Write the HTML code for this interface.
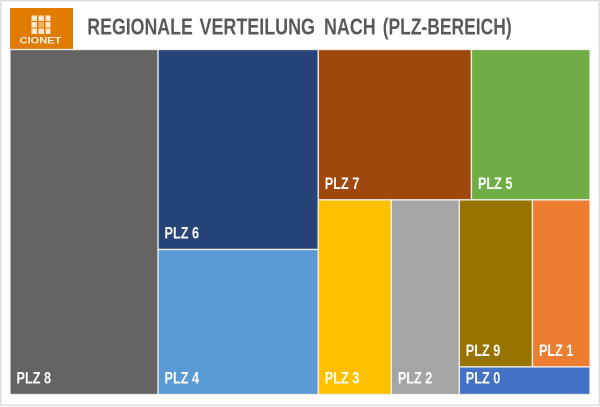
<!DOCTYPE html>
<html lang="de">
<head>
<meta charset="utf-8">
<title>Regionale Verteilung nach PLZ-Bereich</title>
<style>
html,body{margin:0;padding:0;background:#fff;}
body{width:600px;height:407px;overflow:hidden;}
svg{display:block;}
text{font-family:"Liberation Sans",sans-serif;font-weight:700;filter:blur(0.3px);}
</style>
</head>
<body>
<svg id="chart" width="600" height="407" viewBox="0 0 600 407" xmlns="http://www.w3.org/2000/svg">
  <rect x="0.75" y="0.75" width="598.5" height="404.5" fill="#fff" stroke="#dfdfdf" stroke-width="1.5"/>
  <g>
    <rect x="10" y="8" width="63" height="42" fill="#e07b00"/>
    <g fill="#fbe6cc">
      <rect x="31.5" y="15.5" width="5.5" height="5.5"/><rect x="38.5" y="15.5" width="5.5" height="5.5"/><rect x="45.5" y="15.5" width="5" height="5.5"/>
      <rect x="31.5" y="22" width="5.5" height="5.5"/><rect x="38.5" y="22" width="5.5" height="5.5" fill="#f0b36a"/><rect x="45.5" y="22" width="5" height="5.5"/>
      <rect x="31.5" y="28.5" width="5.5" height="5.5"/><rect x="38.5" y="28.5" width="5.5" height="5.5"/><rect x="45.5" y="28.5" width="5" height="5.5"/>
    </g>
    <text x="19.7" y="43.5" font-size="9.5" fill="#fbeee0" textLength="41.5" lengthAdjust="spacingAndGlyphs">CIONET</text>
  </g>
  <g font-size="23.2" fill="#595959">
    <text x="87.3" y="34.5" textLength="105.5" lengthAdjust="spacingAndGlyphs">REGIONALE</text>
    <text x="199.5" y="34.5" textLength="115.5" lengthAdjust="spacingAndGlyphs">VERTEILUNG</text>
    <text x="324" y="34.5" textLength="51.7" lengthAdjust="spacingAndGlyphs">NACH</text>
    <text x="382.7" y="34.5" textLength="129" lengthAdjust="spacingAndGlyphs">(PLZ-BEREICH)</text>
  </g>
  <g id="cells"></g>
</svg>
<script>
// Treemap data, in area share (%)
const categories = ["PLZ 8", "PLZ 6", "PLZ 4", "PLZ 7", "PLZ 5", "PLZ 3", "PLZ 2", "PLZ 9", "PLZ 1", "PLZ 0"];
const values = [25.5, 16.0, 11.6, 11.5, 8.9, 7.1, 6.6, 6.1, 4.8, 1.8];
const colors = ["#636363", "#264478", "#5b9bd5", "#9e480e", "#70ad47", "#ffc000", "#a5a5a5", "#997300", "#ed7d31", "#4472c4"];

// Nesting of the treemap: numbers index the arrays above
const layoutTree = {dir: "x", kids: [
  0,
  {dir: "y", kids: [1, 2]},
  {dir: "y", kids: [
    {dir: "x", kids: [3, 4]},
    {dir: "x", kids: [5, 6, {dir: "y", kids: [{dir: "x", kids: [7, 8]}, 9]}]}
  ]}
]};

const plot = {x: 10, y: 49.5, w: 580, h: 345};
const svgNS = "http://www.w3.org/2000/svg";
const group = document.getElementById("cells");

function nodeTotal(node) {
  if (typeof node === "number") return values[node];
  return node.kids.reduce(function (sum, k) { return sum + nodeTotal(k); }, 0);
}

function drawCell(i, x, y, w, h) {
  const slug = categories[i].toLowerCase().replace(" ", "-");
  const rect = document.createElementNS(svgNS, "rect");
  rect.setAttribute("x", x);
  rect.setAttribute("y", y);
  rect.setAttribute("width", w);
  rect.setAttribute("height", h);
  rect.setAttribute("fill", colors[i]);
  rect.setAttribute("stroke", "#f2efe9");
  rect.setAttribute("stroke-width", "1.3");
  
  
  group.appendChild(rect);

  const label = document.createElementNS(svgNS, "text");
  label.setAttribute("x", x + 6.5);
  label.setAttribute("y", y + h - 11);
  label.setAttribute("font-size", "16.2");
  label.setAttribute("fill", "#ffffff");
  label.setAttribute("textLength", "34.5");
  label.setAttribute("lengthAdjust", "spacingAndGlyphs");
  
  
  label.textContent = categories[i];
  group.appendChild(label);
}

function layout(node, x, y, w, h) {
  if (typeof node === "number") { drawCell(node, x, y, w, h); return; }
  const total = nodeTotal(node);
  let offset = 0;
  node.kids.forEach(function (kid) {
    const share = nodeTotal(kid) / total;
    if (node.dir === "x") {
      layout(kid, x + offset, y, w * share, h);
      offset += w * share;
    } else {
      layout(kid, x, y + offset, w, h * share);
      offset += h * share;
    }
  });
}

layout(layoutTree, plot.x, plot.y, plot.w, plot.h);
</script>
</body>
</html>
